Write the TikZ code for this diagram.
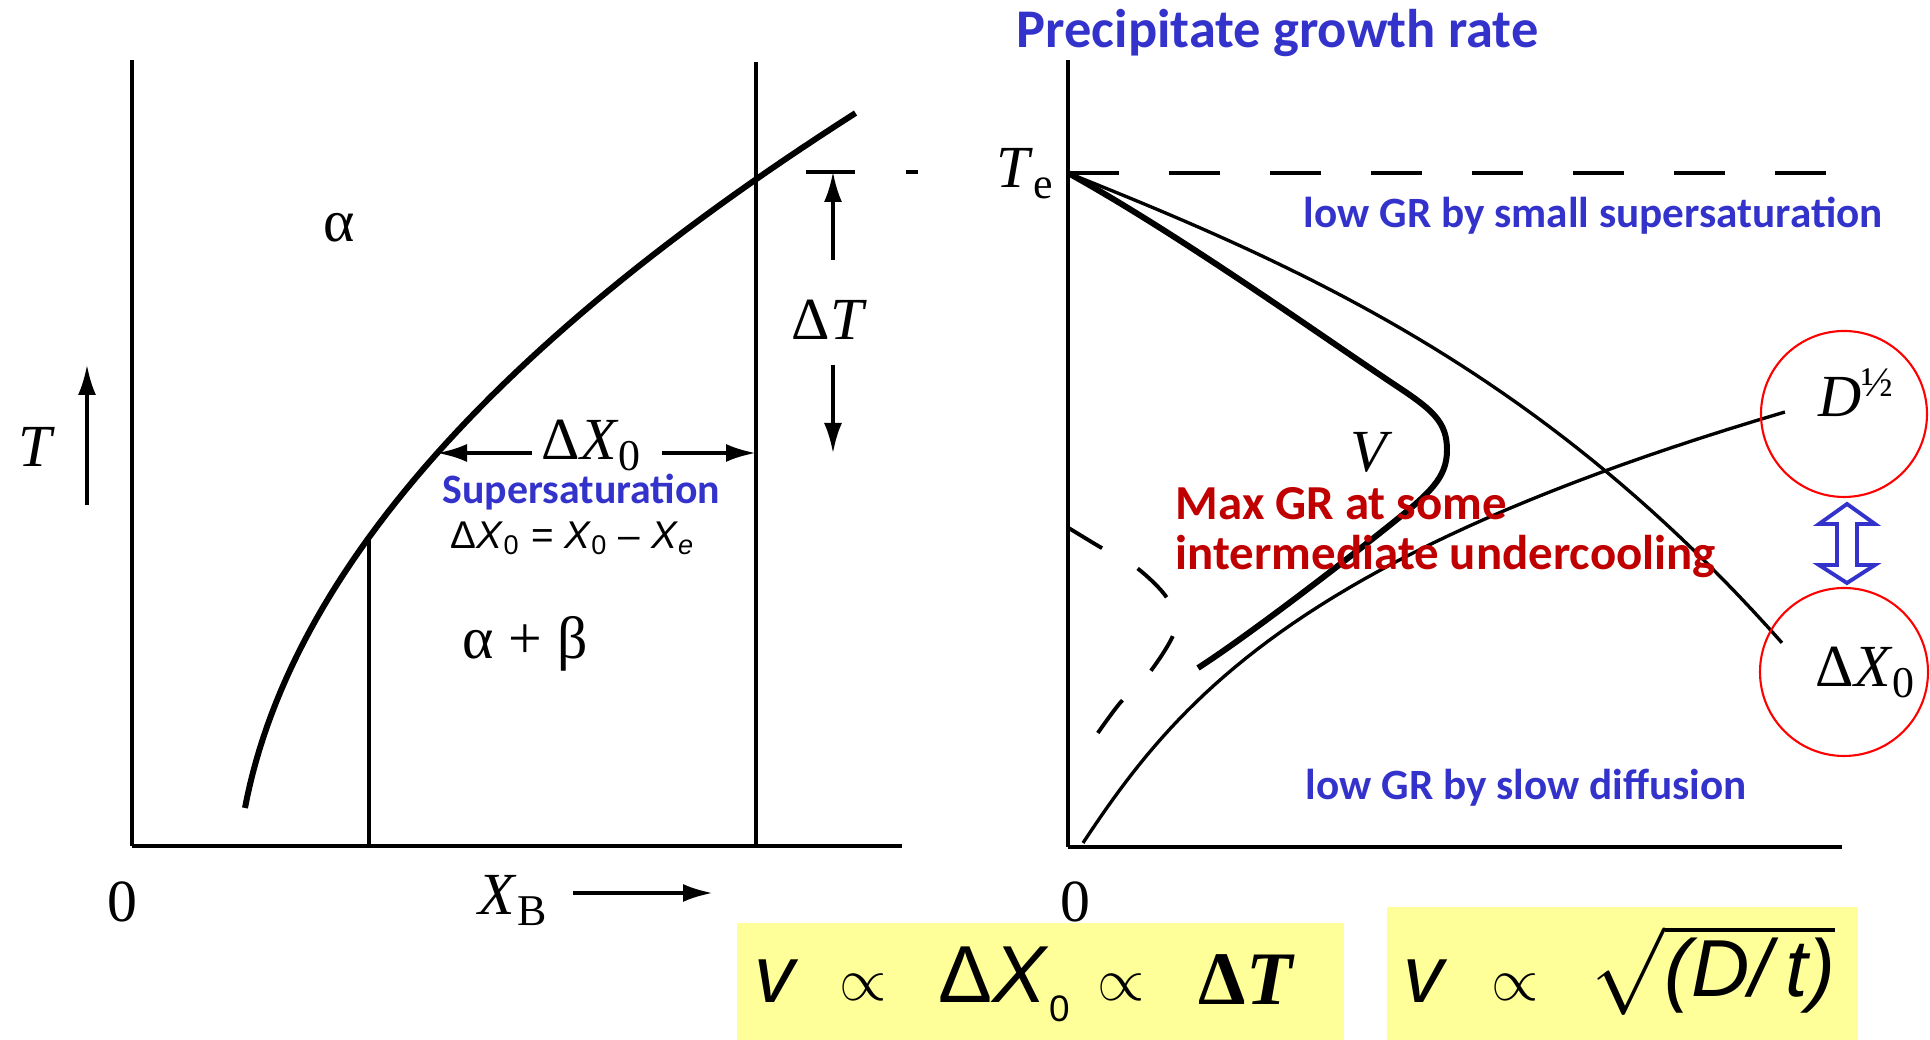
\documentclass[tikz,border=0pt]{standalone}
\usepackage{fontspec}
\usepackage{amsmath}
\usetikzlibrary{arrows.meta}
\newfontfamily\gothic{Carlito}
\newfontfamily\arialfont{Liberation Sans}
\newfontfamily\timesfont{Liberation Serif}
\definecolor{gblue}{RGB}{51,51,204}
\definecolor{gred}{RGB}{192,0,0}
\definecolor{memo}{RGB}{255,255,153}
\newcommand{\lbl}{\timesfont\fontsize{17}{20}\selectfont}
\newcommand{\lowsub}[1]{\raisebox{-0.11cm}{\fontsize{12.5}{14}\selectfont #1}}
\newcommand{\formsize}{\fontsize{23}{27}\selectfont}

\begin{document}
\begin{tikzpicture}[>={Latex[length=3mm,width=1.8mm]},
  every node/.style={inner sep=0pt,anchor=base west},
  guide/.style={line width=0.95pt},
  axisline/.style={line width=1.2pt},
  curve/.style={line width=1.7pt},
  note/.style={text=gblue,font=\gothic\bfseries\fontsize{12.3}{15}\selectfont},
  warn/.style={text=gred,font=\gothic\bfseries\fontsize{13.9}{17}\selectfont},
  ring/.style={red,line width=0.6pt},
  memobox/.style={fill=memo,draw=none}]
  \useasboundingbox (0,0) rectangle (19.3,10.4);
  % left: phase diagram
  \draw[axisline] (1.32,9.80) -- (1.32,1.94);
  \draw[line width=1.4pt] (1.32,1.94) -- (9.02,1.94);
  \draw[guide] (7.56,9.78) -- (7.56,1.94);
  \draw[guide] (3.69,5.02) -- (3.69,1.94);
  % solvus
  \draw[curve] plot[domain=2.32:9.27,samples=60,variable=\t]
        ({2.542-0.2696*\t+0.09908*\t*\t},\t);
  \node (alpha) at (3.23,7.98) {\lbl α};
  \node (ab) at (4.62,3.81) {\lbl α + β};
  \node (tlab) at (0.18,5.73) {\lbl\textit{T}};
  \draw[->,guide] (0.87,5.35) -- (0.87,6.75);
  \node (zeroL) at (1.07,1.18) {\lbl 0};
  \node (xb) at (4.78,1.25) {\lbl\textit{X}\lowsub{B}};
  \draw[->,line width=1.1pt] (5.73,1.47) -- (7.13,1.47);
  % undercooling
  \node (dT) at (7.91,7.00) {\lbl Δ\textit{T}};
  \draw[->,guide] (8.33,7.80) -- (8.33,8.68);
  \draw[->,guide] (8.33,6.75) -- (8.33,5.87);
  \draw[line width=1.4pt] (8.06,8.68) -- (8.55,8.68);
  \draw[line width=1.4pt] (9.06,8.68) -- (9.18,8.68);
  % supersaturation
  \node (dX) at (5.41,5.80) {\lbl Δ\textit{X}\lowsub{0}};
  \draw[->,line width=1.1pt] (5.32,5.87) -- (4.37,5.87);
  \draw[->,line width=1.1pt] (6.62,5.87) -- (7.56,5.87);
  \node[text=gblue,font=\gothic\bfseries\fontsize{11.9}{14}\selectfont] (ss) at (4.42,5.36) {Supersaturation};
  \node[font=\arialfont\fontsize{11}{13}\selectfont] (sseq) at (4.50,4.91)
        {Δ\textit{X}\textsubscript{0}\ =\ \textit{X}\textsubscript{0}\ –\ \textit{X}\textsubscript{\textit{e}}};

  % right: growth rate
  \node[text=gblue,font=\gothic\bfseries\fontsize{15.5}{18}\selectfont] (title) at (10.16,9.92) {Precipitate growth rate};
  \coordinate (Te) at (10.68,8.67);
  \draw[axisline] (10.68,9.80) -- (10.68,1.93);
  \draw[line width=1.4pt] (10.68,1.93) -- (18.42,1.93);
  \draw[axisline,dash pattern=on 0.51cm off 0.50cm] (Te) -- (18.28,8.67);
  \node (te) at (9.96,8.52) {\lbl\textit{T}\lowsub{e}};
  \node (zeroR) at (10.60,1.18) {\lbl 0};
  % supersaturation curve
  \draw[guide] plot[domain=0:7.14,samples=50,variable=\t]
        ({10.68+\t},{8.67-0.4*\t-0.0062*\t*\t-0.004197*\t*\t*\t});
  % diffusion curve
  \draw[guide] plot[domain=0:4.31,samples=50,variable=\t]
        ({10.83+0.6595*\t+0.04182*\t*\t+0.04248*\t*\t*\t},{1.97+\t});
  % growth rate
  \draw[curve] (Te) .. controls (11.80,8.05) and (13.20,7.05) .. (13.95,6.55)
        .. controls (14.33,6.30) and (14.47,6.18) .. (14.47,5.90)
        .. controls (14.47,5.62) and (14.30,5.47) .. (13.90,5.15)
        .. controls (13.30,4.67) and (12.43,4.01) .. (11.98,3.72);
  \draw[line width=1.1pt,dash pattern=on 0.41cm off 0.41cm] plot[smooth] coordinates
        {(10.67,5.13) (11.00,4.93) (11.37,4.72) (11.67,4.42) (11.75,4.10) (11.50,3.68)
        (11.20,3.37) (10.95,3.03)};
  \node (v) at (13.50,5.68) {\lbl\textit{V}};
  \node[note] (lowss) at (13.03,8.12) {low GR by small supersaturation};
  \node[note] (lowdf) at (13.05,2.40) {low GR by slow diffusion};
  \node[warn] (max1) at (11.75,5.20) {Max GR at some};
  \node[warn] (max2) at (11.75,4.70) {intermediate undercooling};
  % the two factors
  \draw[ring] (18.44,6.26) circle (0.83);
  \draw[ring] (18.44,3.68) circle (0.84);
  \node (dhalf) at (18.18,6.23) {\lbl\textit{D}\raisebox{0.2cm}{\fontsize{12}{14}\selectfont ½}};
  \node (dx0) at (18.15,3.53) {\lbl Δ\textit{X}\lowsub{0}};
  \draw[gblue,line width=1.1pt,fill=white] (18.47,5.36) -- (18.75,5.16) -- (18.57,5.16)
        -- (18.57,4.75) -- (18.75,4.75) -- (18.47,4.57) -- (18.19,4.75) -- (18.37,4.75)
        -- (18.37,5.16) -- (18.19,5.16) -- cycle;
  % formulas
  \fill[memobox] (7.37,0) rectangle (13.44,1.17);
  \fill[memobox] (13.87,0) rectangle (18.58,1.33);
  \node (f1v) at (7.54,0.37) {\formsize\arialfont\itshape v};
  \node (f1p) at (8.39,0.39) {\fontsize{19}{22}\selectfont $\propto$};
  \node (f1x) at (9.38,0.37) {\formsize\arialfont Δ\textit{X}\raisebox{-0.19cm}{\fontsize{10.5}{12}\selectfont 0}};
  \node (f1q) at (10.97,0.39) {\fontsize{19}{22}\selectfont $\propto$};
  \node (f1t) at (11.98,0.35) {\timesfont\bfseries\fontsize{21.5}{25}\selectfont Δ\textit{T}};
  \node (f2v) at (14.03,0.37) {\formsize\arialfont\itshape v};
  \node (f2p) at (14.91,0.39) {\fontsize{19}{22}\selectfont $\propto$};
  \node (f2r) at (15.91,0.43) {\formsize $\sqrt{\mbox{\arialfont\itshape (D/\,t)}}$};
\end{tikzpicture}
\end{document}
